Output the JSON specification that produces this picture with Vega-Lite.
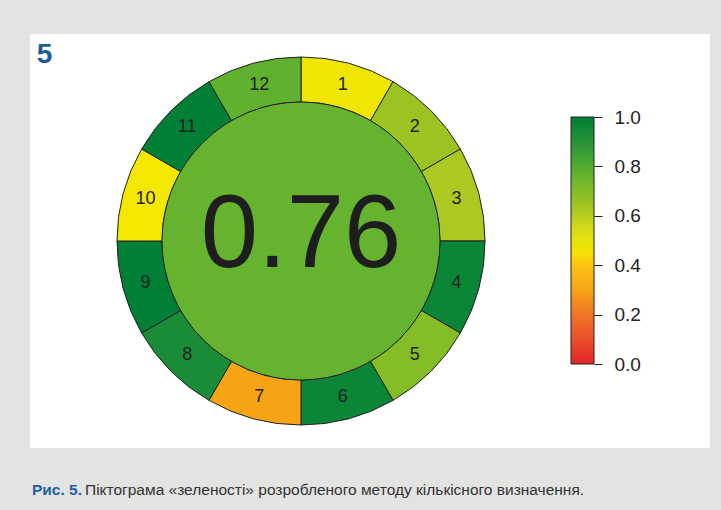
{
  "$schema": "https://vega.github.io/schema/vega-lite/v6.json",
  "background": "#e3e3e1",
  "padding": {"left": 30, "top": 34, "right": 11, "bottom": 16},
  "autosize": {"type": "pad"},
  "bounds": "flush",
  "spacing": 0,
  "datasets": {
    "segments": [
      {"seg": 1, "value": 0.47, "weight": 1},
      {"seg": 2, "value": 0.65, "weight": 1},
      {"seg": 3, "value": 0.62, "weight": 1},
      {"seg": 4, "value": 0.97, "weight": 1},
      {"seg": 5, "value": 0.7, "weight": 1},
      {"seg": 6, "value": 0.97, "weight": 1},
      {"seg": 7, "value": 0.3, "weight": 1},
      {"seg": 8, "value": 0.93, "weight": 1},
      {"seg": 9, "value": 1.0, "weight": 1},
      {"seg": 10, "value": 0.46, "weight": 1},
      {"seg": 11, "value": 1.0, "weight": 1},
      {"seg": 12, "value": 0.77, "weight": 1}
    ],
    "overall": [
      {"value": 0.76}
    ]
  },
  "resolve": {"scale": {"color": "shared"}, "legend": {"color": "shared"}},
  "hconcat": [
    {
      "width": 542,
      "height": 414,
      "view": {"fill": "white", "stroke": null},
      "title": {
        "text": "Рис. 5.",
        "orient": "bottom",
        "anchor": "start",
        "frame": "group",
        "offset": 47,
        "baseline": "alphabetic",
        "dx": 2,
        "font": "Liberation Sans",
        "fontSize": 15.5,
        "fontWeight": "bold",
        "color": "#1f5fa0"
      },
      "layer": [
        {
          "data": {"name": "segments"},
          "mark": {"type": "arc", "radius": 184, "radius2": 139, "stroke": "#222222", "strokeWidth": 1},
          "encoding": {
            "theta": {"field": "weight", "type": "quantitative", "stack": true},
            "order": {"field": "seg", "type": "quantitative", "sort": "ascending"},
            "color": {
              "field": "value",
              "type": "quantitative",
              "scale": {
                "type": "linear",
                "domain": [0, 0.1, 0.2, 0.3, 0.4, 0.46, 0.55, 0.62, 0.65, 0.7, 0.76, 0.85, 0.93, 1.0],
                "range": ["#e32429", "#ea5029", "#f07426", "#f6a416", "#fbc312", "#f5e800", "#d3da1a", "#abc922", "#9bc322", "#85bd27", "#65b32e", "#3c9f35", "#1a8c37", "#007f36"],
                "interpolate": "rgb",
                "clamp": true
              },
              "legend": {
                "orient": "none",
                "legendX": 541,
                "legendY": 83,
                "direction": "vertical",
                "gradientLength": 247,
                "gradientThickness": 23,
                "gradientStrokeColor": "#222222",
                "gradientStrokeWidth": 1,
                "labelOpacity": 0,
                "title": null,
                "padding": 0,
                "zindex": 1
              }
            }
          }
        },
        {
          "data": {"name": "segments"},
          "mark": {"type": "text", "radius": 161, "fontSize": 18, "font": "Liberation Sans", "color": "#222222"},
          "encoding": {
            "theta": {"field": "weight", "type": "quantitative", "stack": true},
            "order": {"field": "seg", "type": "quantitative", "sort": "ascending"},
            "text": {"field": "seg", "type": "nominal"}
          }
        },
        {
          "data": {"name": "overall"},
          "mark": {"type": "arc", "radius": 139, "theta": 0, "theta2": 6.2832, "stroke": "#222222", "strokeWidth": 1},
          "encoding": {
            "color": {"field": "value", "type": "quantitative"}
          }
        },
        {
          "data": {"name": "overall"},
          "mark": {"type": "text", "fontSize": 103, "font": "Liberation Sans", "color": "#1e1e1e", "baseline": "alphabetic", "dy": 26},
          "encoding": {
            "text": {"field": "value", "type": "quantitative", "format": ".2f"}
          }
        }
      ]
    },
    {
      "width": 138,
      "height": 414,
      "data": {"name": "overall"},
      "title": {
        "text": "Піктограма «зеленості» розробленого методу кількісного визначення.",
        "orient": "bottom",
        "anchor": "start",
        "frame": "group",
        "offset": 47,
        "baseline": "alphabetic",
        "dx": -487,
        "font": "Liberation Sans",
        "fontSize": 15.5,
        "fontWeight": "normal",
        "color": "#333333"
      },
      "mark": {"type": "point", "opacity": 0},
      "encoding": {
        "y": {
          "field": "value",
          "type": "quantitative",
          "scale": {"domain": [0, 1], "range": [330, 83], "nice": false, "zero": false},
          "axis": {
            "orient": "right",
            "offset": -116,
            "values": [0, 0.2, 0.4, 0.6, 0.8, 1],
            "format": ".1f",
            "domain": false,
            "grid": false,
            "ticks": true,
            "tickSize": 8,
            "tickColor": "#222222",
            "tickWidth": 1,
            "labelPadding": 12,
            "labelFontSize": 19,
            "labelFont": "Liberation Sans",
            "labelColor": "#222222",
            "title": "5",
            "titleX": -550,
            "titleY": 28,
            "titleAngle": 0,
            "titleAlign": "center",
            "titleBaseline": "alphabetic",
            "titleFont": "Liberation Sans",
            "titleFontSize": 28,
            "titleFontWeight": "bold",
            "titleColor": "#1d5b9a"
          }
        }
      }
    }
  ],
  "config": {
    "view": {"fill": "white", "stroke": null}
  }
}
